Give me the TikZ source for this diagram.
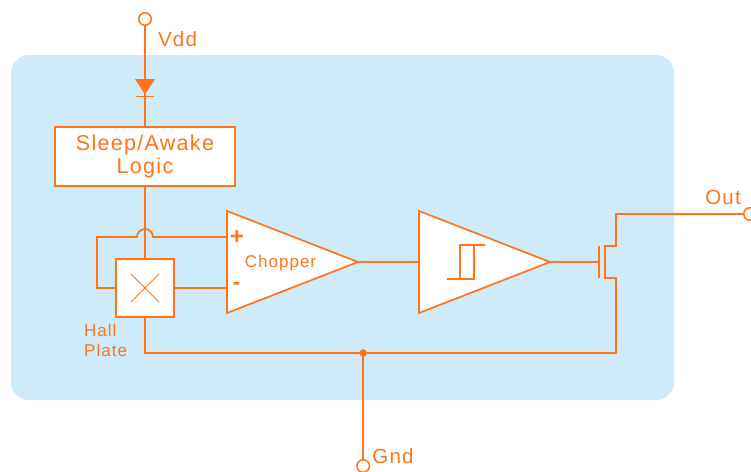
\documentclass[tikz,border=0pt]{standalone}
\usepackage{fontspec}
\setmainfont[LetterSpace=6]{Liberation Sans}
\usepackage{tikz}
\usetikzlibrary{arrows.meta,positioning,calc,shapes.geometric}
\definecolor{WireOrange}{RGB}{255,117,25}
\definecolor{PanelBlue}{RGB}{207,234,249}

\tikzset{
  wire/.style={draw=WireOrange,line width=1.7pt},
  pin/.style={circle,draw=WireOrange,fill=white,line width=1.5pt,minimum size=12.5pt,inner sep=0pt},
  blockbox/.style={draw=WireOrange,fill=white,line width=1.7pt,inner sep=0pt},
  amp/.style={isosceles triangle,isosceles triangle stretches,draw=WireOrange,fill=white,line width=1.7pt,
    minimum width=102pt,minimum height=131pt,inner sep=0pt,outer sep=0pt},
  txt/.style={text=WireOrange,inner sep=0pt,font=\fontsize{20.5}{23}\selectfont},
  smalltxt/.style={text=WireOrange,inner sep=0pt,font=\fontsize{17}{20}\selectfont},
}

\begin{document}
\begin{tikzpicture}[x=1pt,y=-1pt]
  \useasboundingbox (0,0) rectangle (751,471);
  \fill[PanelBlue,rounded corners=18pt] (11,55) rectangle (674,400);

  % pins
  \node[pin] (vdd) at (145,19) {};
  \node[pin] (out) at (750,214) {};
  \node[pin] (gnd) at (363.2,466) {};
  \node[txt] (vddlabel) at (177.5,39) {Vdd};
  \node[txt] (outlabel) at (723,197) {Out};
  \node[txt] (gndlabel) at (393,456) {Gnd};

  % blocks
  \node[blockbox,minimum width=180pt,minimum height=59pt,align=center,txt,font=\fontsize{21.5}{23}\selectfont] (logic) at (145,156.5) {Sleep/Awake\\Logic};
  \node[blockbox,minimum width=58pt,minimum height=58pt] (hall) at (145,288) {};
  \node[smalltxt,align=left,anchor=north west] (halllabel) at (84,324) {Hall\\Plate};
  \node[amp,anchor=lower side] (chopper) at (227,262) {};
  \node[amp,anchor=lower side] (schmitt) at (419,262) {};
  \node[smalltxt] (chopperlabel) at (280.5,263) {Chopper};
  \node[text=WireOrange,inner sep=0pt,font=\fontsize{24}{24}\selectfont\bfseries] (plus) at (237,237) {+};
  \node[text=WireOrange,inner sep=0pt,font=\fontsize{22}{22}\selectfont\bfseries] (minus) at (236.5,286) {-};

  % diode
  \coordinate (diodetop) at (145,80);
  \coordinate (diodebar) at (145,96.5);
  \draw[wire] (vdd) -- (diodetop);
  \fill[WireOrange] (135,79) -- (155,79) -- (145,94.5) -- cycle;
  \draw[wire] (136,96.5) -- (154,96.5);
  \draw[wire] (145,94) -- (logic.north);

  % hall plate wiring
  \draw[wire] (logic.south) -- (hall.north);
  \draw[wire] (hall.west) -- (97,288) -- (97,237) -- (137,237) arc[start angle=180,end angle=360,radius=8] -- (chopper.lower side |- 0,237);
  \draw[wire] (hall.east) -- (chopper.lower side |- hall.east);
  \draw[WireOrange,line width=1pt] ($(hall)+(-14,-14)$) -- ($(hall)+(14,14)$);
  \draw[WireOrange,line width=1pt] ($(hall)+(-14,14)$) -- ($(hall)+(14,-14)$);

  % hysteresis mark
  \draw[wire] (447,279) -- (474,279) -- (474,245) -- (485,245) -- (460,245) -- (460,279);

  % signal path
  \draw[wire] (chopper.apex) -- (schmitt.lower side);
  \coordinate (gate) at (599,262);
  \draw[wire] (schmitt.apex) -- (gate);
  \draw[wire] (599,246) -- (599,278);
  \draw[wire] (out) -- (616,214) -- (616,246) -- (605,246) -- (605,278) -- (616,278) -- (616,353) -- (145,353) -- (hall.south);
  \coordinate (junction) at (363.2,353);
  \fill[WireOrange] (junction) circle (3.8pt);
  \draw[wire] (junction) -- (gnd);
\end{tikzpicture}
\end{document}
